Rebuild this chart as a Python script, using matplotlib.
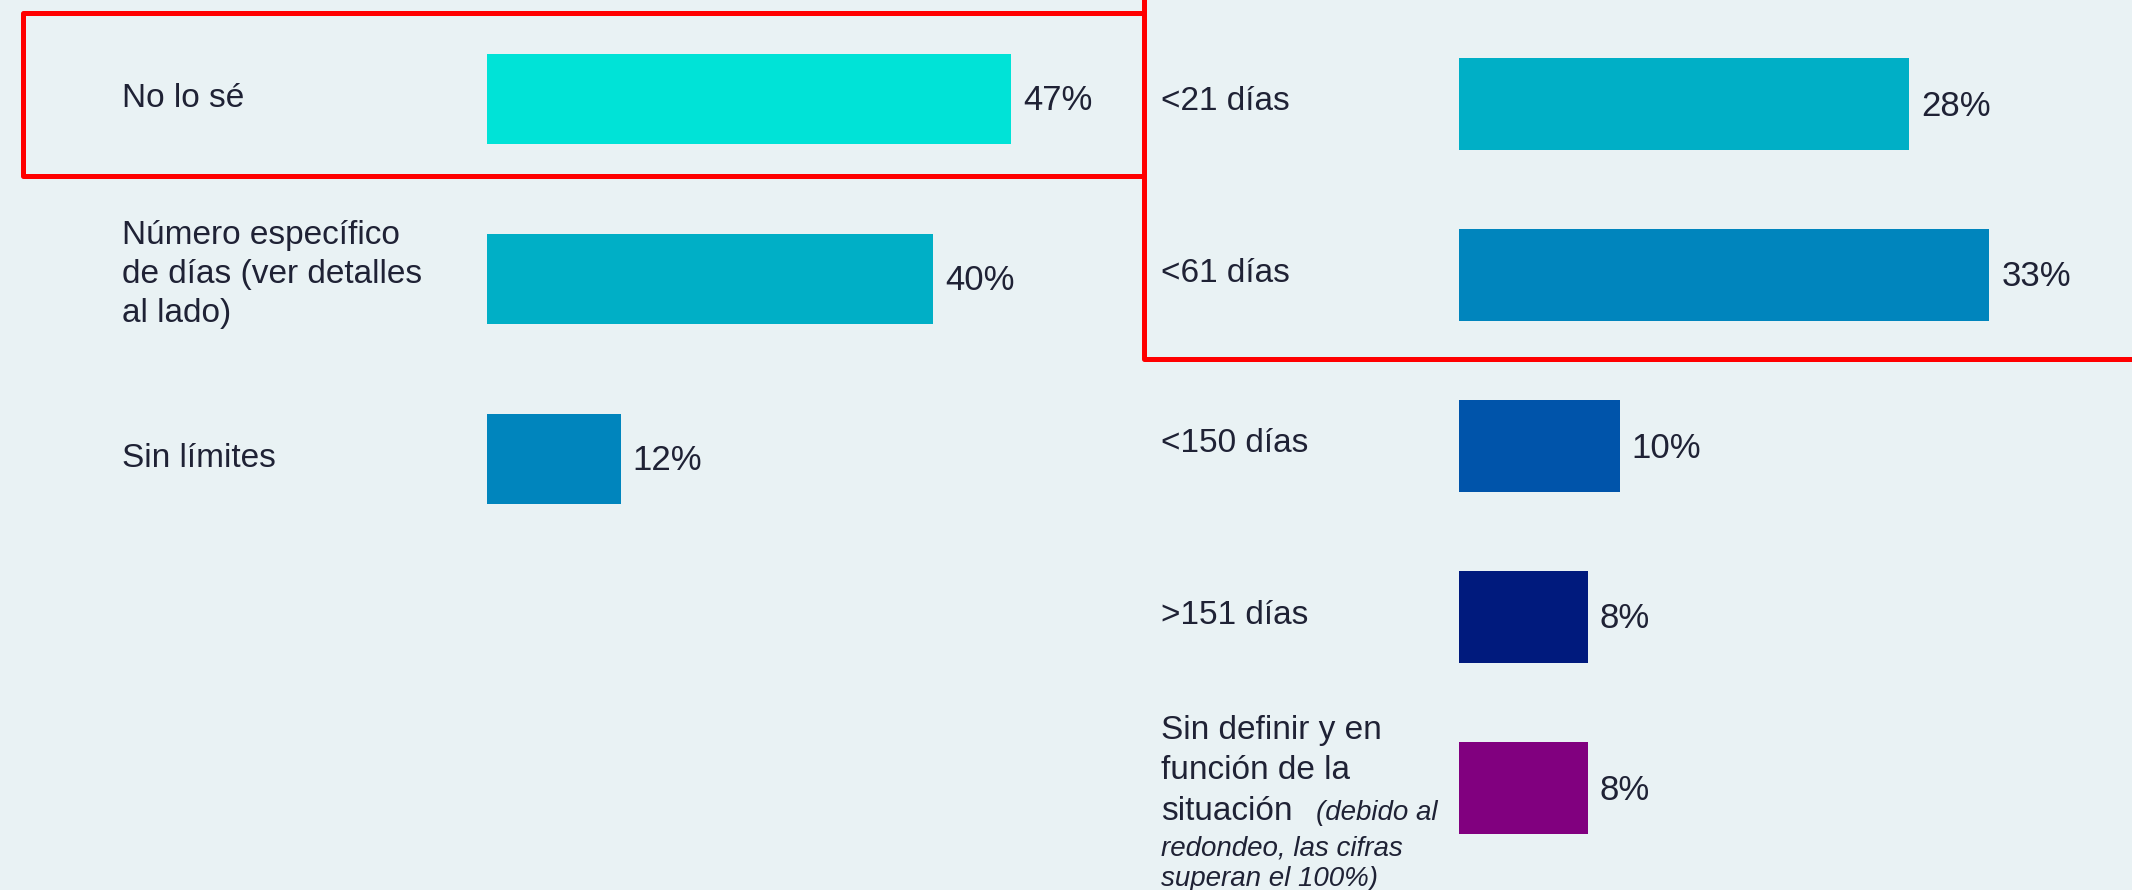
import matplotlib.pyplot as plt
from matplotlib.lines import Line2D

# data
left_labels = ["No lo sé", "Número específico\nde días (ver detalles\nal lado)", "Sin límites"]
left_values = [47, 40, 12]
left_colors = ["#00e3d7", "#00afc6", "#0085bd"]

right_labels = ["<21 días", "<61 días", "<150 días", ">151 días",
                "Sin definir y en\nfunción de la\nsituación"]
right_values = [28, 33, 10, 8, 8]
right_colors = ["#00afc6", "#0085bd", "#0054aa", "#001a7d", "#81007f"]
right_note = "(debido al\nredondeo, las cifras\nsuperan el 100%)"

BG = "#e9f2f4"
TXT = "#1f2235"
W, H = 2132, 890

plt.rcParams['font.family'] = ['Liberation Sans', 'DejaVu Sans']

fig = plt.figure(figsize=(W / 100, H / 100), dpi=100, facecolor=BG)


def make_axes(x0, x1, px_per_pct, first_center, step):
    ax = fig.add_axes([x0 / W, 0, (x1 - x0) / W, 1])
    ax.set_xlim(0, (x1 - x0) / px_per_pct)
    ax.set_ylim((H - first_center) / step, -first_center / step)
    ax.axis("off")
    return ax


ax1 = make_axes(487, 1140, 11.15, 98.6, 180)
ax2 = make_axes(1459, 2132, 16.07, 104, 171)


def value_label(ax, v, i):
    ax.annotate(f"{v}%", xy=(v, i), xytext=(12, -2), textcoords='offset pixels',
                va='center', ha='left', fontsize=25, color=TXT, annotation_clip=False)


# left panel
ax1.barh(range(len(left_values)), left_values, height=0.5, color=left_colors)
for i, (lab, v) in enumerate(zip(left_labels, left_values)):
    dy = 4 if "\n" in lab else 0
    ax1.annotate(lab, xy=(122, i), xycoords=('figure pixels', 'data'),
                 xytext=(0, dy), textcoords='offset pixels', va='center', ha='left',
                 fontsize=24, color=TXT, linespacing=1.32, annotation_clip=False)
    value_label(ax1, v, i)

# right panel
ax2.barh(range(len(right_values)), right_values, height=0.538, color=right_colors)
last = len(right_values) - 1
for i, (lab, v) in enumerate(zip(right_labels, right_values)):
    if i < last:
        ax2.annotate(lab, xy=(1161, i), xycoords=('figure pixels', 'data'),
                     xytext=(0, 2), textcoords='offset pixels', va='center', ha='left',
                     fontsize=24, color=TXT, annotation_clip=False)
    value_label(ax2, v, i)

# last label is split: two lines, then "situación" followed by the italic note
# (va='baseline' on multi-line text pins the last line)
head, situ = right_labels[last].rsplit("\n", 1)
ax2.annotate(head, xy=(1161, last), xycoords=('figure pixels', 'data'),
             xytext=(0, 9), textcoords='offset pixels', va='baseline', ha='left',
             fontsize=24, color=TXT, linespacing=1.37, annotation_clip=False)
situ_txt = ax2.annotate(situ, xy=(1161, last), xycoords=('figure pixels', 'data'),
                        xytext=(0, -32), textcoords='offset pixels', va='baseline',
                        ha='left', fontsize=24, color=TXT, annotation_clip=False)
note_first, note_rest = right_note.split("\n", 1)
ax2.annotate(note_first, xy=(1, last), xycoords=(situ_txt, 'data'),
             xytext=(23, -32), textcoords='offset pixels', va='baseline', ha='left',
             fontsize=20, style='italic', color=TXT, annotation_clip=False)
ax2.annotate(note_rest, xy=(1161, last), xycoords=('figure pixels', 'data'),
             xytext=(0, -98), textcoords='offset pixels', va='baseline', ha='left',
             fontsize=20, style='italic', color=TXT, linespacing=1.22,
             annotation_clip=False)


# red highlight boxes (figure pixels, y measured from top)
def red_line(xs, ys):
    fig.add_artist(Line2D([x / W for x in xs], [1 - y / H for y in ys],
                          transform=fig.transFigure, color="#ff0000", lw=3.6,
                          solid_joinstyle='round', solid_capstyle='butt'))


red_line([1143.5, 22.5, 22.5, 1143.5], [12.5, 12.5, 176, 176])
red_line([1143.5, 1143.5, 2140], [-5, 358.5, 358.5])

fig.savefig("out.png", dpi=100, facecolor=BG)
